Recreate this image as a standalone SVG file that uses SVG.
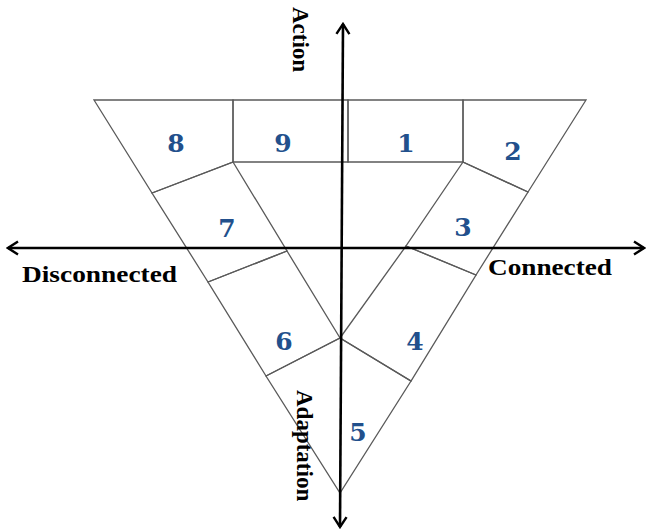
<svg xmlns="http://www.w3.org/2000/svg" width="649" height="530" viewBox="0 0 649 530">
<style>
.cell{fill:none;stroke:#5a5a5a;stroke-width:1.3;stroke-linejoin:miter}
.num{font-family:"DejaVu Serif","Liberation Serif",serif;font-weight:bold;font-size:25px;fill:#22508c;text-anchor:middle}
.lab{font-family:"Liberation Serif","Times New Roman",serif;font-weight:bold;font-size:23px;fill:#000}
.axis{stroke:#000;stroke-width:2.6;fill:none}
</style>
<defs>
<marker id="arr" viewBox="-12 -8 14 16" markerWidth="14" markerHeight="16" refX="0" refY="0" orient="auto-start-reverse" markerUnits="userSpaceOnUse">
<path d="M-10,-6.5 L0,0 L-10,6.5" fill="none" stroke="#000" stroke-width="2.4"/>
</marker>
</defs>
<rect width="649" height="530" fill="#fff"/>
<g id="cell8"><polygon class="cell" points="94,100 233,100 233,162 152,193"/><text class="num" x="176" y="152">8</text></g>
<g id="cell9"><polygon class="cell" points="233,100 348,100 348,162 233,162"/><text class="num" x="283" y="152">9</text></g>
<g id="cell1"><polygon class="cell" points="348,100 463,100 463,162 348,162"/><text class="num" x="406" y="152">1</text></g>
<g id="cell2"><polygon class="cell" points="463,100 586,100 528,192 463,162"/><text class="num" x="513" y="160">2</text></g>
<g id="cell7"><polygon class="cell" points="152,193 233,162 287,251 208,282"/><text class="num" x="227" y="237">7</text></g>
<g id="cell3"><polygon class="cell" points="463,162 528,192 476,275 406,246"/><text class="num" x="463" y="236">3</text></g>
<g id="cell6"><polygon class="cell" points="208,282 287,251 340,338 266,376"/><text class="num" x="284" y="350">6</text></g>
<g id="cell4"><polygon class="cell" points="340,338 406,246 476,275 411,381"/><text class="num" x="415" y="350">4</text></g>
<g id="cell5"><polygon class="cell" points="266,376 340,338 411,381 340,493"/><text class="num" x="358" y="441">5</text></g>
<g id="connectors">
<line class="axis" x1="340" y1="527" x2="343" y2="24" marker-start="url(#arr)" marker-end="url(#arr)"/>
<line class="axis" x1="8" y1="248" x2="644" y2="248" marker-start="url(#arr)" marker-end="url(#arr)"/>
</g>
<g id="labels">
<text class="lab" transform="translate(293,7) rotate(90)">Action</text>
<text class="lab" transform="translate(297,390) rotate(90)">Adaptation</text>
<text class="lab" x="22" y="282" textLength="155" lengthAdjust="spacingAndGlyphs">Disconnected</text>
<text class="lab" x="488" y="275" textLength="124" lengthAdjust="spacingAndGlyphs">Connected</text>
</g>
</svg>
